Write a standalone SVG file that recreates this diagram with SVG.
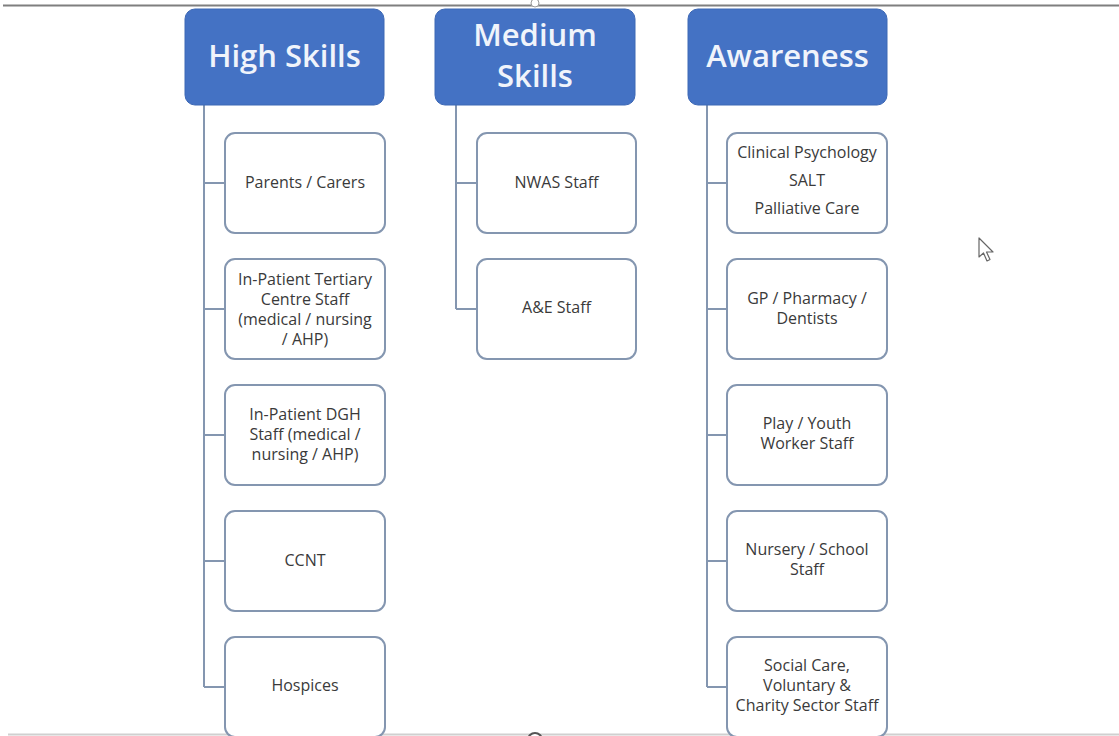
<svg xmlns="http://www.w3.org/2000/svg" width="1119" height="736" viewBox="0 0 1119 736">
<style>
.hdr{fill:#4472C4;stroke:#3d68b5;stroke-width:1}
.hdrt{font-family:"Open Sans","Noto Sans",sans-serif;font-size:31px;font-weight:600;fill:#f0f4fb;text-anchor:middle}
.box{fill:#ffffff;stroke:#8496b0;stroke-width:2}
.t{font-family:"Open Sans","Noto Sans",sans-serif;font-size:16px;fill:#3a3a3a;text-anchor:middle}
.con{fill:none;stroke:#8496b0;stroke-width:2}
</style>
<rect width="1119" height="736" fill="#ffffff"/>
<line x1="3" y1="5.5" x2="1119" y2="5.5" stroke="#7f7f7f" stroke-width="2"/>
<line x1="8" y1="734.5" x2="1119" y2="734.5" stroke="#d0d0d0" stroke-width="2"/>
<g id="connectors">
<path class="con" d="M204,105 V687 M204,183 H225 M204,309 H225 M204,435 H225 M204,561 H225 M204,687 H225"/>
<path class="con" d="M456,105 V309 M456,183 H477 M456,309 H477"/>
<path class="con" d="M707,105 V687 M707,183 H727 M707,309 H727 M707,435 H727 M707,561 H727 M707,687 H727"/>
</g>
<g id="high-skills">
<rect class="hdr" x="185" y="9" width="199" height="96" rx="10"/>
<text class="hdrt" x="284.5" y="67">High Skills</text>
</g>
<g id="medium-skills">
<rect class="hdr" x="435" y="9" width="200" height="96" rx="10"/>
<text class="hdrt" x="535" y="46">Medium</text>
<text class="hdrt" x="535" y="87">Skills</text>
</g>
<g id="awareness">
<rect class="hdr" x="688" y="9" width="199" height="96" rx="10"/>
<text class="hdrt" x="787.5" y="67">Awareness</text>
</g>
<g id="parents-carers">
<rect class="box" x="225" y="133" width="160" height="100" rx="10"/>
<text class="t" x="305" y="188">Parents / Carers</text>
</g>
<g id="inpatient-tertiary">
<rect class="box" x="225" y="259" width="160" height="100" rx="10"/>
<text class="t" x="305" y="285">In-Patient Tertiary</text>
<text class="t" x="305" y="305">Centre Staff</text>
<text class="t" x="305" y="325">(medical / nursing</text>
<text class="t" x="305" y="345">/ AHP)</text>
</g>
<g id="inpatient-dgh">
<rect class="box" x="225" y="385" width="160" height="100" rx="10"/>
<text class="t" x="305" y="420">In-Patient DGH</text>
<text class="t" x="305" y="440">Staff (medical /</text>
<text class="t" x="305" y="460">nursing / AHP)</text>
</g>
<g id="ccnt">
<rect class="box" x="225" y="511" width="160" height="100" rx="10"/>
<text class="t" x="305" y="566">CCNT</text>
</g>
<g id="hospices">
<rect class="box" x="225" y="637" width="160" height="100" rx="10"/>
<text class="t" x="305" y="691">Hospices</text>
</g>
<g id="nwas-staff">
<rect class="box" x="477" y="133" width="159" height="100" rx="10"/>
<text class="t" x="556.5" y="188">NWAS Staff</text>
</g>
<g id="ae-staff">
<rect class="box" x="477" y="259" width="159" height="100" rx="10"/>
<text class="t" x="556.5" y="313">A&amp;E Staff</text>
</g>
<g id="clinical-psychology">
<rect class="box" x="727" y="133" width="160" height="100" rx="10"/>
<text class="t" x="807" y="158">Clinical Psychology</text>
<text class="t" x="807" y="186">SALT</text>
<text class="t" x="807" y="214">Palliative Care</text>
</g>
<g id="gp-pharmacy">
<rect class="box" x="727" y="259" width="160" height="100" rx="10"/>
<text class="t" x="807" y="304">GP / Pharmacy /</text>
<text class="t" x="807" y="324">Dentists</text>
</g>
<g id="play-youth">
<rect class="box" x="727" y="385" width="160" height="100" rx="10"/>
<text class="t" x="807" y="429">Play / Youth</text>
<text class="t" x="807" y="449">Worker Staff</text>
</g>
<g id="nursery-school">
<rect class="box" x="727" y="511" width="160" height="100" rx="10"/>
<text class="t" x="807" y="555">Nursery / School</text>
<text class="t" x="807" y="575">Staff</text>
</g>
<g id="social-care">
<rect class="box" x="727" y="637" width="160" height="100" rx="10"/>
<text class="t" x="807" y="671">Social Care,</text>
<text class="t" x="807" y="691">Voluntary &amp;</text>
<text class="t" x="807" y="711">Charity Sector Staff</text>
</g>
<circle cx="535" cy="3" r="4" fill="#ffffff" stroke="#9a9a9a" stroke-width="1"/>
<circle cx="535" cy="740" r="7" fill="#ffffff" stroke="#555555" stroke-width="2"/>
<path d="M979,238 L979,257 L983.5,253 L987,261 L990,259.5 L986.5,252 L993,252 Z" fill="#ffffff" stroke="#666666" stroke-width="1.2" stroke-linejoin="round"/>
</svg>
